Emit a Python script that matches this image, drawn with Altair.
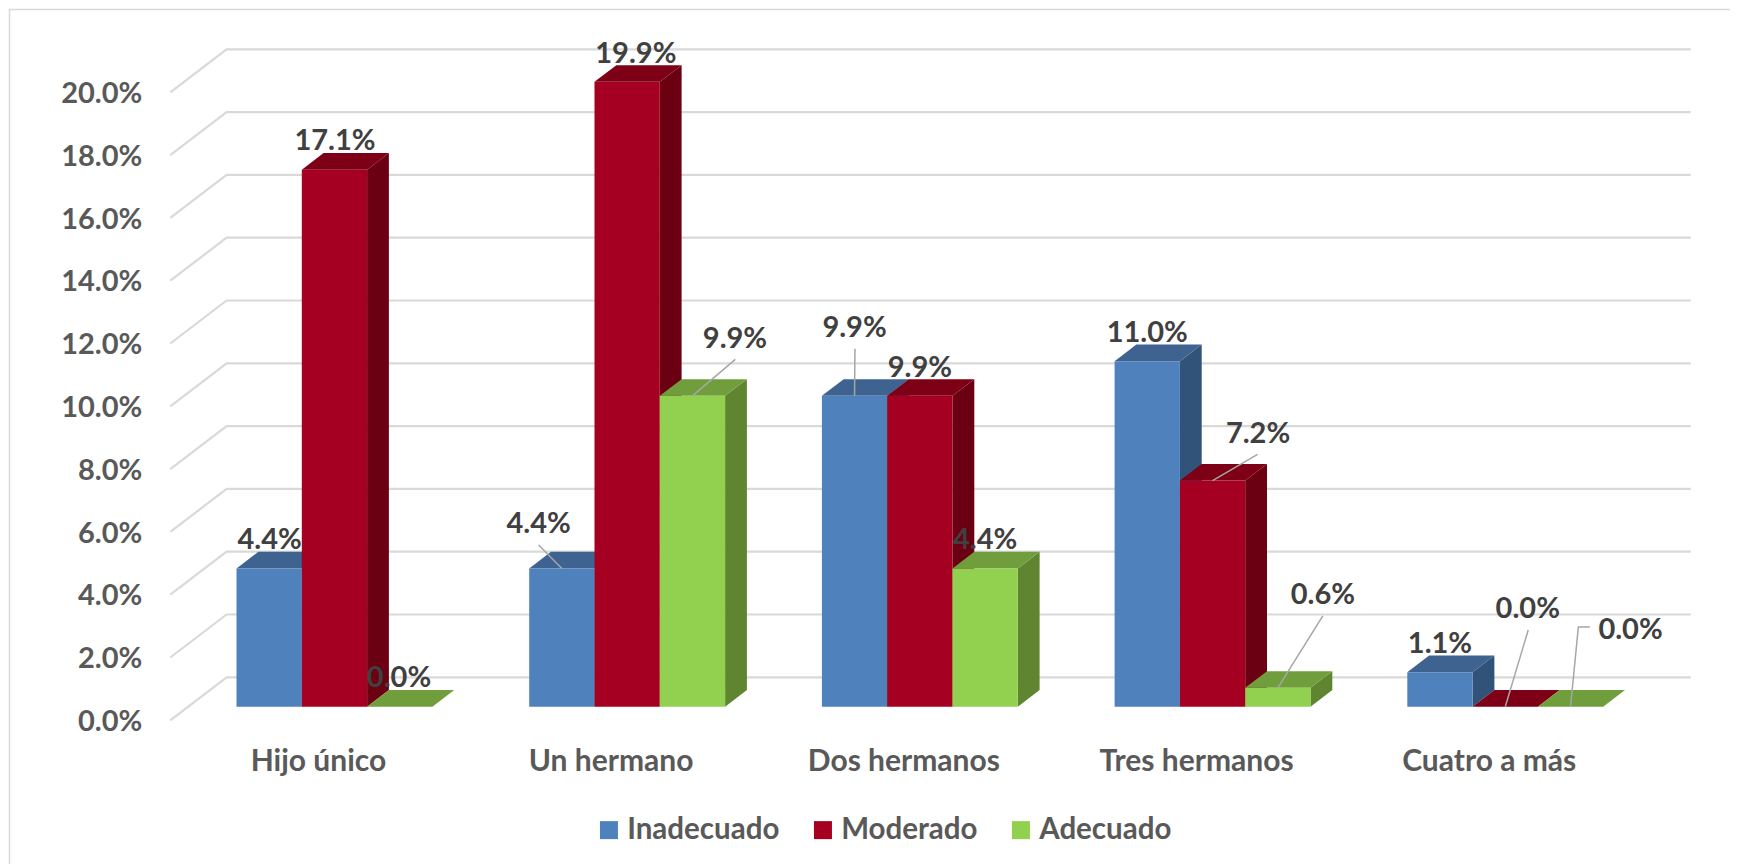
import altair as alt
import pandas as pd

categories = ["Hijo único", "Un hermano", "Dos hermanos", "Tres hermanos", "Cuatro a más"]
series_names = ["Inadecuado", "Moderado", "Adecuado"]
inadecuado = [4.4, 4.4, 9.9, 11.0, 1.1]
moderado = [17.1, 19.9, 9.9, 7.2, 0.0]
adecuado = [0.0, 9.9, 4.4, 0.6, 0.0]
series_values = [inadecuado, moderado, adecuado]
y_ticks = [0, 2, 4, 6, 8, 10, 12, 14, 16, 18, 20]

front_colors = ["#4F81BD", "#A50021", "#92D050"]
top_colors = ["#3E6391", "#7D0016", "#719E3C"]
side_colors = ["#315379", "#6B0012", "#5F8530"]

# Page geometry of the scales: px per group, px per percent, and where group 0 / 0 % fall
PX_GROUP, PX_PCT, ORIGIN_X, ORIGIN_Y = 292.7, 31.4, 236.5, 706.7
PAGE = 8
W, H = 1724, 858
def px(n): return n / PX_GROUP
def py(n): return n / PX_PCT

x_dom = [px(PAGE - ORIGIN_X), px(PAGE + W - ORIGIN_X)]
y_dom = [py(ORIGIN_Y - PAGE - H), py(ORIGIN_Y - PAGE)]

BAR_W = px(65.3)
DEPTH_X, DEPTH_Y = px(21.8), py(16.7)
WALL_FRONT_X, WALL_BACK_X, WALL_RIGHT_X = px(170.3 - ORIGIN_X), px(226.6 - ORIGIN_X), px(1690.8 - ORIGIN_X)
WALL_FRONT_Y, WALL_BACK_Y = py(706.7 - 720.3), py(706.7 - 677.3)
FRAME_L, FRAME_T = px(9.5 - ORIGIN_X), py(706.7 - 9.5)

# Label nudges in pixels from each bar's top-centre, group by group, series by series
label_dx = [0.5, 0.5, -0.75, -23.2, 8.7, 42.5, 0, 0, 0, 0, 45.5, 45, 0, 22.5, 60]
label_dy = [-30.5, -29.8, -30.7, -46.5, -29.8, -58.8, -69, -29.8, -30.5, -29.6, -48.6, -93.9, -30, -99.7, -78.7]
# Leader lines: bar index -> bends in pixels from the bar's top-centre
leaders = {
    3: [(0, 0), (-23.2, -23.5)],
    5: [(0, 0), (42.9, -36.5)],
    6: [(0, 0), (0.4, -47)],
    10: [(0, 0), (45, -26.3)],
    11: [(0, 0), (45, -71.9)],
    13: [(0, 0), (23, -76.7)],
    14: [(0, 0), (7.8, -79.7), (19.3, -79.7)],
}

fronts, sides, tops, labels, leader_rows = [], [], [], [], []
n = 0
for g, _ in enumerate(categories):
    for s, name in enumerate(series_names):
        v = series_values[s][g]
        xl = g + s * BAR_W
        xr = xl + BAR_W
        xc = xl + BAR_W / 2
        fronts.append(dict(series=name, x=xl, x2=xr, y=v, y2=0))
        sides.append(dict(id=n, fill=side_colors[s], x=xr, y=v, y2=0))
        sides.append(dict(id=n, fill=side_colors[s], x=xr + DEPTH_X, y=v + DEPTH_Y, y2=DEPTH_Y))
        tops.append(dict(id=n, fill=top_colors[s], y=v, x=xl, x2=xr))
        tops.append(dict(id=n, fill=top_colors[s], y=v + DEPTH_Y, x=xl + DEPTH_X, x2=xr + DEPTH_X))
        labels.append(dict(text=f"{v:.1f}%", x=xc + px(label_dx[n]), y=v - py(label_dy[n])))
        for k, (dx, dy) in enumerate(leaders.get(n, [])):
            leader_rows.append(dict(id=n, k=k, x=xc + px(dx), y=v - py(dy)))
        n += 1

grid_rows = []
for t in y_ticks:
    grid_rows.append(dict(t=t, k=0, x=WALL_FRONT_X, y=t + WALL_FRONT_Y))
    grid_rows.append(dict(t=t, k=1, x=WALL_BACK_X, y=t + WALL_BACK_Y))
    grid_rows.append(dict(t=t, k=2, x=WALL_RIGHT_X, y=t + WALL_BACK_Y))

frame_rows = [
    dict(k=0, x=FRAME_L, y=y_dom[0] + py(2)),
    dict(k=1, x=FRAME_L, y=FRAME_T),
    dict(k=2, x=x_dom[1] - px(2), y=FRAME_T),
]

FONT = "Lato"
sx = alt.Scale(domain=x_dom, nice=False, zero=False)
sy = alt.Scale(domain=y_dom, nice=False, zero=False)

names_js = "[" + ",".join(f"'{c}'" for c in categories) + "]"
x_axis = alt.Axis(
    values=[g + 1.5 * BAR_W for g in range(len(categories))],
    labelExpr=f"{names_js}[round(datum.value - {1.5 * BAR_W})]",
    orient="bottom", offset=761 - PAGE - H, labelOffset=-16.5, labelPadding=0, labelLimit=400,
    labelBaseline="middle", labelAlign="center", domain=False, ticks=False, grid=False,
    labelFont=FONT, labelFontSize=30, labelFontWeight="bold", labelColor="#595959",
    labelOverlap=False, labelFlush=False, labelBound=False, title=None,
)
y_axis = alt.Axis(
    values=y_ticks, labelExpr="format(datum.value, '.1f') + '%'",
    orient="left", offset=-(141.8 - PAGE), labelOffset=14.8, labelPadding=0,
    labelAlign="right", labelBaseline="middle", domain=False, ticks=False, grid=False,
    labelFont=FONT, labelFontSize=29, labelFontWeight="bold", labelColor="#595959",
    labelOverlap=False, labelFlush=False, labelBound=False, title=None,
)
X = alt.X("x:Q", scale=sx, axis=x_axis, title=None)
Y = alt.Y("y:Q", scale=sy, axis=y_axis, title=None, stack=None)

frame = alt.Chart(pd.DataFrame(frame_rows)).mark_line(
    color="#D9D9D9", strokeWidth=1.5, strokeJoin="round", clip=False
).encode(x=X, y=Y, order="k:Q")
grid = alt.Chart(pd.DataFrame(grid_rows)).mark_line(color="#D9D9D9", strokeWidth=2.2).encode(
    x=X, y=Y, detail="t:N", order="k:Q"
)
side = alt.Chart(pd.DataFrame(sides)).mark_area(orient="vertical").encode(
    x=X, y=Y, y2="y2:Q", detail="id:N", fill=alt.Fill("fill:N", scale=None)
)
top = alt.Chart(pd.DataFrame(tops)).mark_area(orient="horizontal").encode(
    x=X, x2="x2:Q", y=Y, detail="id:N", fill=alt.Fill("fill:N", scale=None)
)
front = alt.Chart(pd.DataFrame(fronts)).mark_rect().encode(
    x=X, x2="x2:Q", y=Y, y2="y2:Q",
    color=alt.Color(
        "series:N",
        scale=alt.Scale(domain=series_names, range=front_colors),
        sort=series_names,
        legend=alt.Legend(
            orient="none", legendX=600.2 - PAGE - 6, legendY=832 - PAGE - 17, direction="horizontal",
            columns=3, title=None, symbolType="square", symbolSize=324, symbolStrokeWidth=0,
            labelFont=FONT, labelFontSize=29.5, labelFontWeight="bold", labelColor="#595959",
            labelOffset=3.5, columnPadding=28, padding=0, labelLimit=400,
        ),
    ),
)
leader = alt.Chart(pd.DataFrame(leader_rows)).mark_line(color="#A6A6A6", strokeWidth=1.5).encode(
    x=X, y=Y, detail="id:N", order="k:Q"
)
text = alt.Chart(pd.DataFrame(labels)).mark_text(
    font=FONT, fontSize=29, fontWeight="bold", color="#404040", align="center", baseline="middle", dy=1.5
).encode(x=X, y=Y, text="text:N")

chart = alt.layer(frame, grid, side, top, front, leader, text).properties(
    width=W, height=H, padding=0, background="white"
).configure_view(stroke=None)

chart.save("out.html", embed_options={"renderer": "svg", "actions": False})
